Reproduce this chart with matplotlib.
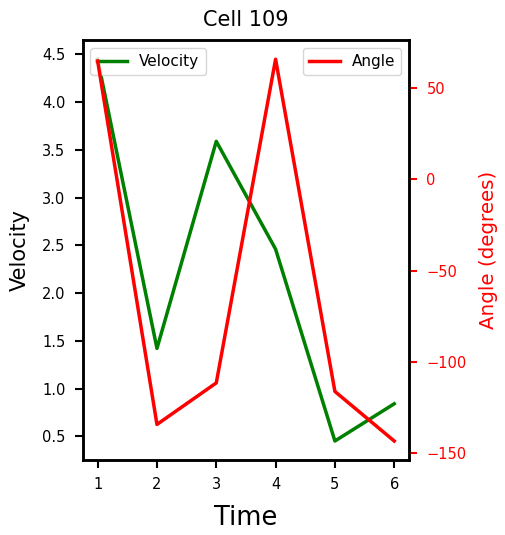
import matplotlib
matplotlib.use('Agg')
import matplotlib.pyplot as plt

time = [1, 2, 3, 4, 5, 6]
velocity = [4.45, 1.42, 3.59, 2.46, 0.45, 0.84]
angle = [65, -134.5, -111.7, 66, -116.4, -143.6]

fig, ax1 = plt.subplots(figsize=(5.05, 5.35), dpi=100)
fig.subplots_adjust(left=0.164, right=0.81, top=0.925, bottom=0.14)

ax1.plot(time, velocity, color='green', linewidth=2.5, label='Velocity')
ax1.set_xlabel('Time', fontsize=18.5, labelpad=9)
ax1.set_ylabel('Velocity', fontsize=15, labelpad=9)
ax1.set_title('Cell 109', fontsize=15, pad=10)
ax1.tick_params(axis='both', labelsize=10.5, length=6, width=1.5, pad=6.5)
ax1.legend(loc='upper left', fontsize=11)

ax2 = ax1.twinx()
ax2.plot(time, angle, color='red', linewidth=2.5, label='Angle')
ax2.set_ylabel('Angle (degrees)', color='red', fontsize=14.3, labelpad=9)
ax2.tick_params(axis='y', colors='red', labelsize=10.5, length=6, width=1.5, pad=6.5)
ax2.legend(loc='upper right', fontsize=11)

for a in (ax1, ax2):
    for s in a.spines.values():
        s.set_linewidth(1.8)

fig.savefig('out.png', dpi=100)
